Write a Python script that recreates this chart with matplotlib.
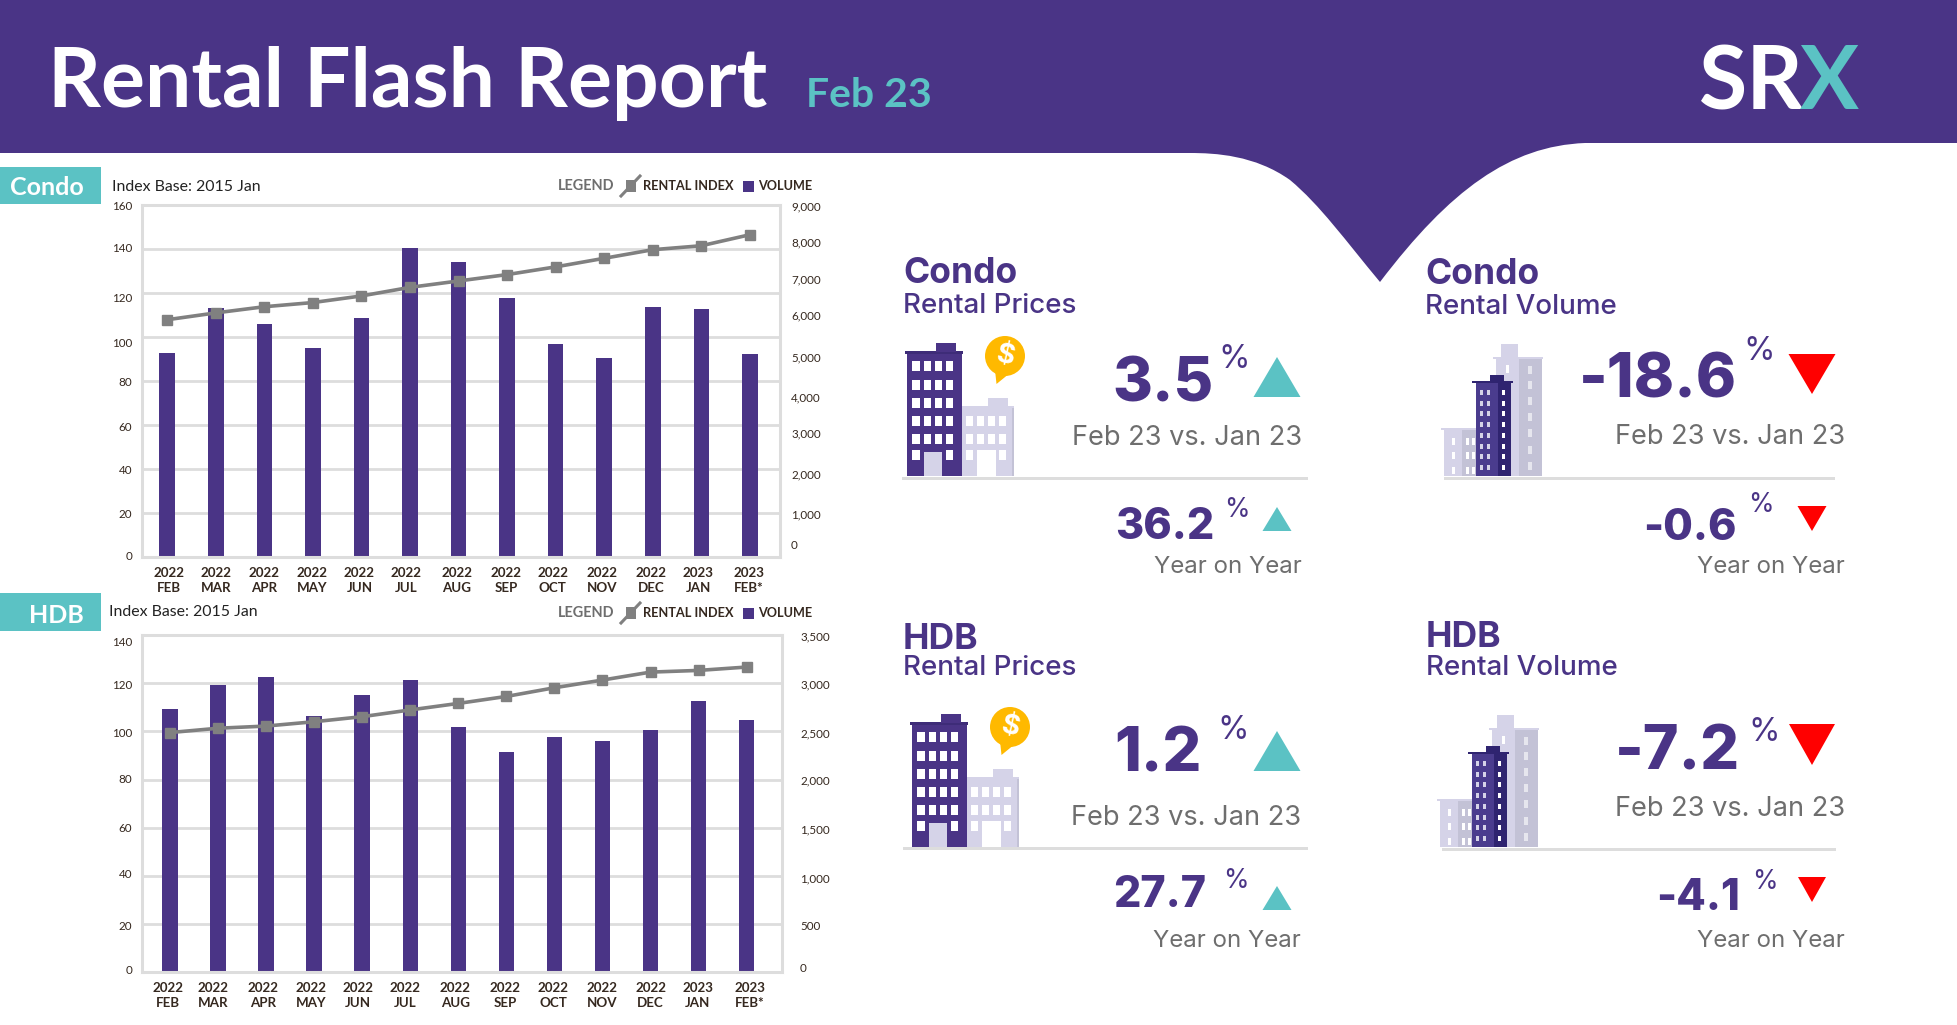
import matplotlib
matplotlib.use("Agg")
import matplotlib.pyplot as plt
from matplotlib.patches import Polygon, Rectangle, Circle, PathPatch
from matplotlib.path import Path
from matplotlib.transforms import Affine2D

# ---------- data ----------
months = ["2022\nFEB", "2022\nMAR", "2022\nAPR", "2022\nMAY", "2022\nJUN", "2022\nJUL", "2022\nAUG",
          "2022\nSEP", "2022\nOCT", "2022\nNOV", "2022\nDEC", "2023\nJAN", "2023\nFEB*"]
condo_volume = [5228, 6378, 5960, 5339, 6105, 7910, 7553, 6616, 5441, 5083, 6403, 6352, 5194]
condo_index = [107.9, 111.0, 113.8, 115.7, 118.7, 122.6, 125.5, 128.4, 131.9, 135.8, 139.7, 141.5, 146.5]
hdb_volume = [2729, 2978, 3064, 2663, 2874, 3030, 2549, 2283, 2442, 2397, 2518, 2819, 2618]
hdb_index = [99.5, 101.3, 102.2, 104.0, 106.1, 108.9, 111.6, 114.5, 118.1, 121.3, 124.6, 125.3, 126.7]
condo_left_ticks = [0, 20, 40, 60, 80, 100, 120, 140, 160]
condo_right_ticks = [0, 1000, 2000, 3000, 4000, 5000, 6000, 7000, 8000, 9000]
hdb_left_ticks = [0, 20, 40, 60, 80, 100, 120, 140]
hdb_right_ticks = [0, 500, 1000, 1500, 2000, 2500, 3000, 3500]

# ---------- style ----------
W, H = 1958, 1025
PURPLE = "#4A3486"
TEAL = "#5BC2C4"
RED = "#FF0000"
GREY_T = "#6E6E6E"
RULE = "#DDDDDD"
LIGHT = "#D5D3E8"
MID = "#C3C2D6"
DARKT = "#35281F"
GOLD = "#FFB900"
FONT = "Inter"
AXF = "Lato"

fig = plt.figure(figsize=(W / 100, H / 100), dpi=100, facecolor="white")
bg = fig.add_axes([0, 0, 1, 1], zorder=0)
bg.set_xlim(0, W)
bg.set_ylim(H, 0)
bg.axis("off")


def T(x, y, s, size_px, color=PURPLE, ha="left", weight="normal", font=FONT, va="baseline"):
    return bg.text(x, y, s, fontsize=size_px * 0.72, color=color, ha=ha, va=va, fontweight=weight,
                   family=font)


def R(x0, y0, x1, y1, c, z=2):
    bg.add_patch(Rectangle((x0, y0), x1 - x0, y1 - y0, fc=c, ec="none", zorder=z))


# ---------- header ----------
verts = [(0, 0), (W, 0), (W, 143), (1585, 143),
         (1510, 146), (1450, 190), (1380, 282),
         (1345, 240), (1320, 205), (1290, 180),
         (1255, 155), (1215, 153), (1190, 153),
         (0, 153), (0, 0)]
codes = [Path.MOVETO, Path.LINETO, Path.LINETO, Path.LINETO,
         Path.CURVE4, Path.CURVE4, Path.CURVE4,
         Path.CURVE4, Path.CURVE4, Path.CURVE4,
         Path.CURVE4, Path.CURVE4, Path.CURVE4,
         Path.LINETO, Path.CLOSEPOLY]
bg.add_patch(PathPatch(Path(verts, codes), fc=PURPLE, ec="none", zorder=1))
T(48, 107, "Rental Flash Report", 82.3, "white", weight="bold", font="Lato")
T(806, 107, "Feb 23", 41, TEAL, weight="bold", font="Lato")
T(1699, 109, "SR", 88, "white", weight="bold", font="Lato")
T(1800, 109, "X", 88, TEAL, weight="bold", font="Lato")

# ---------- tabs ----------
R(0, 167, 101, 204, TEAL)
R(0, 593, 101, 631, TEAL)
T(10, 195, "Condo", 25, "white", weight="bold", font="Lato")
T(29, 623, "HDB", 25, "white", weight="bold", font="Lato")


# ---------- chart ----------
def chart(box, volume, index, lticks, rticks, xlim, lo, ro, xo, rpad):
    l, t, r, b = box
    pos = [l / W, 1 - b / H, (r - l) / W, (b - t) / H]
    ax = fig.add_axes(pos, zorder=1, facecolor="none")
    axv = ax.twinx()
    axl = ax.twinx()
    xs = list(range(len(volume)))
    ax.set_zorder(1); axv.set_zorder(2); axl.set_zorder(3)
    axv.patch.set_visible(False); axl.patch.set_visible(False)

    ax.set_ylim(lticks[0], lticks[-1])
    axl.set_ylim(lticks[0], lticks[-1])
    axv.set_ylim(rticks[0], rticks[-1])
    for a in (ax, axv, axl):
        a.set_xlim(*xlim)

    ax.set_yticks(lticks)
    ax.yaxis.grid(True, color=RULE, lw=2.0)
    ax.set_axisbelow(True)
    ax.set_xticks(xs)
    ax.set_xticklabels(months, fontsize=9.6, color=DARKT, fontweight="bold", family=AXF, linespacing=1.32)
    ax.tick_params(axis="both", length=0)
    ax.tick_params(axis="y", labelsize=8.4, labelcolor=DARKT, pad=7)
    ax.tick_params(axis="x", pad=7)
    axv.set_yticks(rticks)
    axv.set_yticklabels([f"{v:,}" for v in rticks])
    axv.tick_params(axis="y", length=0, labelsize=8.4, labelcolor=DARKT, pad=rpad)
    axl.set_yticks([])
    axl.tick_params(length=0)

    for lab in ax.get_yticklabels():
        lab.set_family(AXF)
    for lab in axv.get_yticklabels():
        lab.set_family(AXF)
    for lab, off in zip(ax.get_yticklabels(), lo):
        lab.set_transform(lab.get_transform() + Affine2D().translate(0, -off))
    for lab, off in zip(axv.get_yticklabels(), ro):
        lab.set_transform(lab.get_transform() + Affine2D().translate(0, -off))
    for lab, off in zip(ax.get_xticklabels(), xo):
        lab.set_transform(lab.get_transform() + Affine2D().translate(off, 0))

    axv.bar(xs, volume, width=0.32, color=PURPLE, linewidth=0)
    axl.plot(xs, index, color="#808080", lw=2.6, marker="s", ms=7.2, mec="#808080", mfc="#808080", clip_on=False)

    for a in (ax, axv):
        for s in a.spines.values():
            s.set_visible(False)
    for s in axl.spines.values():
        s.set_color(RULE)
        s.set_linewidth(2.2)


chart((142, 205, 780, 557.3), condo_volume, condo_index, condo_left_ticks, condo_right_ticks, (-0.52, 12.62),
      lo=[-1.3, 0, 0.7, 1.3, 0, 5, 4.7, -1.7, 1],
      ro=[-13, -4, -5, -7, -4, -5, -8, -4, -2.3, 1],
      xo=[2, 0, 0, -1, -2, -4, -2, -1, -3, -2, -2, -3, -1], rpad=8)
chart((142, 635, 782, 972.3), hdb_volume, hdb_index, hdb_left_ticks, hdb_right_ticks, (-0.58, 12.735),
      lo=[-3.3, 1.3, -2.3, -0.7, -1, 1, 1, 6],
      ro=[-4.3, 1.3, 2.3, 1.3, 0.7, 1.7, 1, 1],
      xo=[-2, -5, -3, -3, -4, -5, -3, -1, -1, 0, 0, -1, 3], rpad=13)

# ---------- chart captions and legends ----------
T(112, 187, "Index Base: 2015 Jan", 15.9, "#222222", font=AXF, va="center")
T(109, 612, "Index Base: 2015 Jan", 15.9, "#222222", font=AXF, va="center")
for yc in (186, 613):
    T(558, yc, "LEGEND", 14.5, GREY_T, weight="bold", font=AXF, va="center")
    bg.plot([621, 640], [yc + 10, yc - 10], color="#808080", lw=2.2, zorder=3)
    bg.add_patch(Rectangle((626, yc - 6), 10, 12, fc="#808080", ec="none", zorder=4))
    T(643, yc, "RENTAL INDEX", 12.7, DARKT, weight="bold", font=AXF, va="center")
    R(743, yc - 5.5, 754, yc + 5.5, PURPLE)
    T(758, yc, "VOLUME", 12.6, DARKT, weight="bold", font=AXF, va="center")


# ---------- KPI icons ----------
def price_icon(dx, dy):
    def r(a, b, c, d, col, z=3):
        R(a + dx, b + dy, c + dx, d + dy, col, z)
    r(962, 406, 1014, 476, LIGHT)
    r(988, 398, 1008, 406, LIGHT)
    r(1012, 408, 1014, 476, MID, 4)
    r(907, 352, 962, 476, PURPLE)
    r(905.5, 351, 963, 354, "#3E2C78")
    r(936, 343, 956, 352, PURPLE)
    rows = [361.3, 379.7, 397.7, 415.7, 433.7, 450.3]
    for ri, y in enumerate(rows):
        for ci, x in enumerate([912.3, 923.7, 934.7, 945.7]):
            if ri == 5 and ci in (1, 2):
                continue
            r(x, y, x + 7.5, y + 10, "white", 4)
    for ri, y in enumerate(rows[3:]):
        for ci, x in enumerate([965.7, 977, 987.7, 999]):
            if ri == 2 and ci in (1, 2):
                continue
            r(x, y, x + 7.5, y + 10, "white", 4)
    r(924.3, 452.3, 942, 476, LIGHT, 5)
    r(977, 450.3, 996, 476, "white", 5)
    bg.add_patch(Circle((1005 + dx, 356 + dy), 20, fc=GOLD, ec="none", zorder=3))
    bg.add_patch(Polygon([(995 + dx, 370 + dy), (1010 + dx, 373 + dy), (996.5 + dx, 384 + dy)], fc=GOLD, ec="none", zorder=3))
    bg.text(1005 + dx, 356.5 + dy, "$", fontsize=20, color="white", ha="center", va="center",
            fontweight="bold", family=FONT, rotation=-12, zorder=4)


def volume_icon(dx, dy):
    def r(a, b, c, d, col, z=3):
        R(a + dx, b + dy, c + dx, d + dy, col, z)
    r(1496, 358, 1519, 476, LIGHT)
    r(1519, 358, 1542, 476, MID)
    r(1493, 357, 1543, 359, LIGHT, 3)
    r(1501, 344, 1518, 358, LIGHT)
    r(1444, 429, 1462, 476, LIGHT)
    r(1462, 429, 1476, 476, MID)
    r(1441, 428, 1476, 430, LIGHT, 3)
    for y in [365.5, 381, 397, 413, 429, 446, 462]:
        r(1528, y, 1532, y + 8, "#E6E6EE", 4)
    r(1506, 365, 1509, 373, "white", 4)
    for y in [438, 452, 467]:
        r(1452, y, 1455, y + 7, "white", 4)
        r(1466, y, 1469, y + 7, "white", 4)
        r(1472, y, 1475, y + 7, "white", 4)
    r(1476, 382, 1511, 476, "#4A3C8E", 5)
    r(1498, 382, 1511, 476, "#2F2470", 6)
    r(1472, 381, 1513, 383, "#2F2470", 7)
    r(1490, 375, 1504, 382, "#2F2470", 5)
    for k in range(8):
        y = 390 + 10.7 * k
        for x in (1480, 1487):
            r(x, y, x + 3, y + 5, LIGHT, 7)
        r(1502.5, y, 1505.5, y + 5, "white", 7)


price_icon(0, 0)
price_icon(5, 371)
volume_icon(0, 0)
volume_icon(-4, 371)


# ---------- KPI panels ----------
def tri(x, ytop, half, ybase, col):
    bg.add_patch(Polygon([(x, ytop), (x - half, ybase), (x + half, ybase)], fc=col, ec="none", zorder=3))


def kpi(x, head, headb, sub, subb, bigv, bigx, bigb, bigs, pctx, pctb, pcts, tr, caption_b, rule,
        yv, yx, yb, ys, ypx, ypb, yps, tr2, cap2b, capx):
    T(x, headb, head, 35.5, PURPLE, weight="bold")
    T(x, subb, sub, 27.8, PURPLE, weight="medium")
    T(bigx, bigb, bigv, bigs, PURPLE, ha="right", weight="heavy")
    T(pctx, pctb, "%", pcts, PURPLE, ha="right", weight="normal")
    tri(*tr)
    T(capx, caption_b, "Feb 23 vs. Jan 23", 27.2, GREY_T, ha="right", weight="normal")
    R(rule[0], rule[2] - 1.5, rule[1], rule[2] + 1.5, RULE, 2)
    T(yx, yb, yv, ys, PURPLE, ha="right", weight="heavy")
    T(ypx, ypb, "%", yps, PURPLE, ha="right", weight="normal")
    tri(*tr2)
    T(capx, cap2b, "Year on Year", 24, GREY_T, ha="right", weight="normal")


kpi(903, "Condo", 283, "Rental Prices", 313, "3.5", 1214, 401, 61, 1250, 368, 32,
    (1277, 357, 23.5, 397, TEAL), 445, (902, 1308, 478),
    "36.2", 1214, 539, 43, 1250, 517, 26, (1277, 507, 14.5, 531, TEAL), 573, 1302)
kpi(1425, "Condo", 284, "Rental Volume", 314, "-18.6", 1737, 398, 61, 1775, 360, 32,
    (1812, 394, 23.5, 354, RED), 444, (1444, 1835, 478),
    "-0.6", 1737, 540, 43, 1774, 512, 26, (1812, 531, 14.5, 506, RED), 573, 1845)
kpi(903, "HDB", 649, "Rental Prices", 675, "1.2", 1202, 771, 61, 1249, 739, 32,
    (1277, 731, 23.5, 771, TEAL), 825, (903, 1308, 848),
    "27.7", 1206, 907, 43, 1249, 888, 26, (1277, 886, 14.5, 910, TEAL), 947, 1301)
kpi(1426, "HDB", 647, "Rental Volume", 675, "-7.2", 1740, 769, 61, 1780, 741, 32,
    (1812, 765, 23, 724, RED), 816, (1442, 1836, 849),
    "-4.1", 1740, 910, 43, 1778, 889, 26, (1812, 902, 14, 877, RED), 947, 1845)

fig.savefig("out.png", dpi=100, facecolor="white")
